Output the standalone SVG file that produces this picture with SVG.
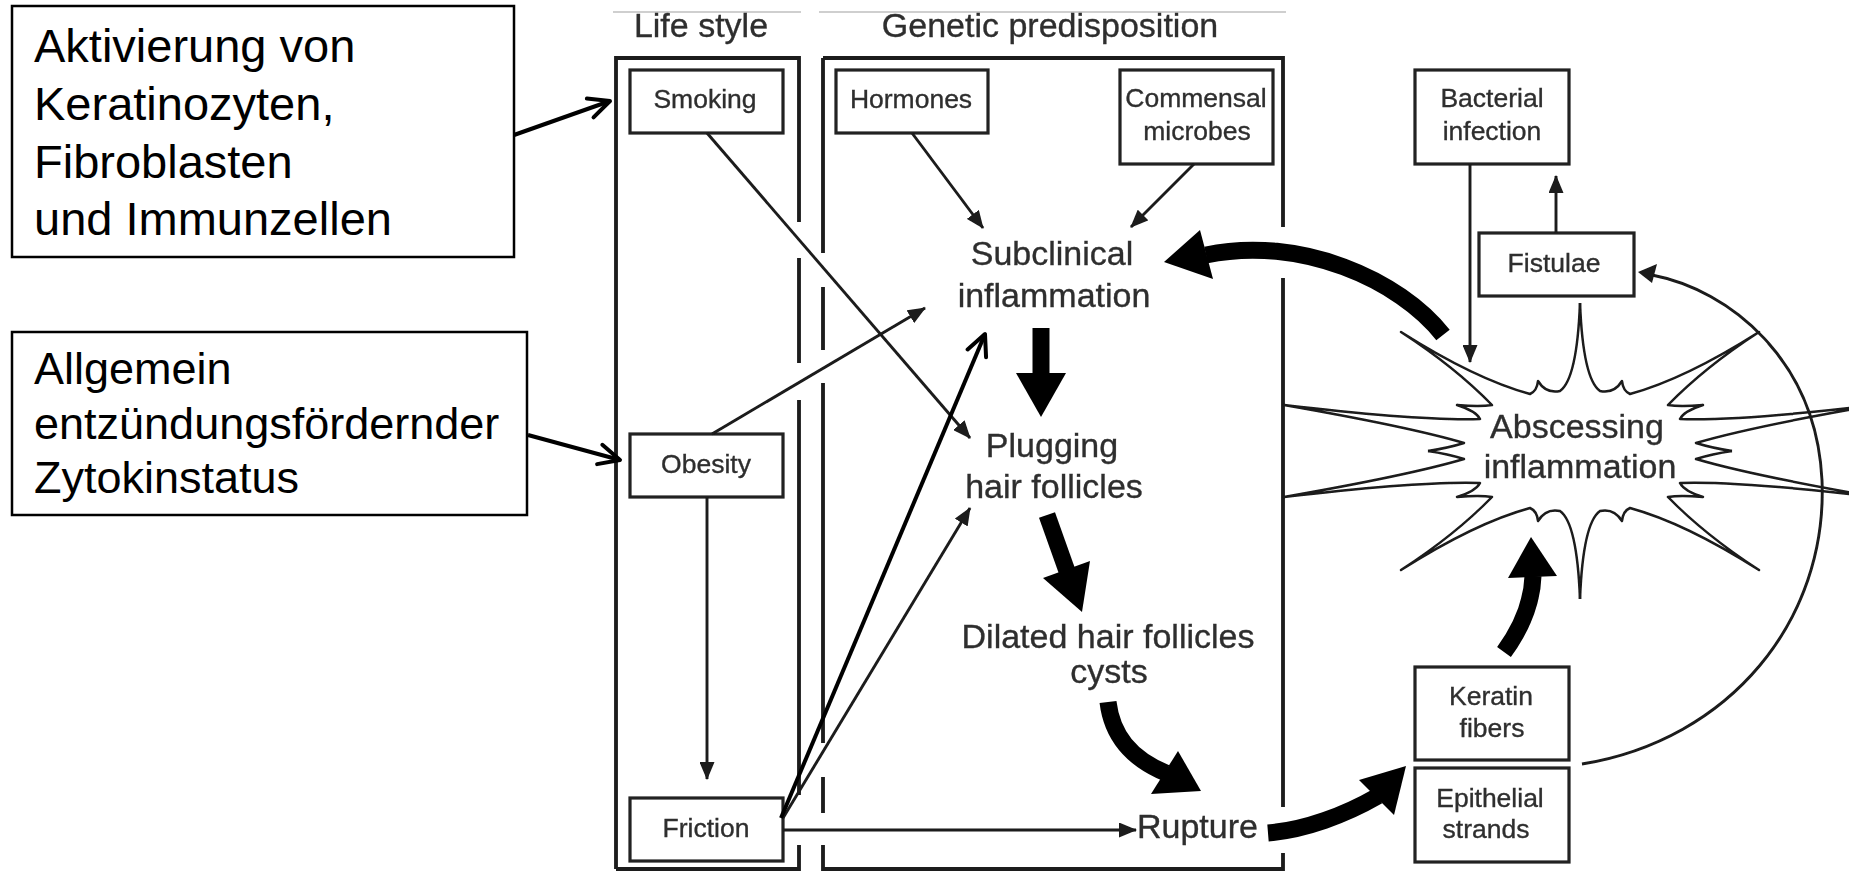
<svg xmlns="http://www.w3.org/2000/svg" xmlns:xlink="http://www.w3.org/1999/xlink" width="1849" height="871" viewBox="0 0 1849 871">
  <style>
    .note { fill: #fff; stroke: #000; stroke-width: 2.5; }
    .notetext { font-family: "Liberation Sans", Arial, sans-serif; fill: #000; }
    .notearrow { fill: none; stroke: #000; stroke-width: 4; marker-end: url(#vee); }
    .frame { fill: none; stroke: #1a1a1a; stroke-width: 3.8; }
    .rule { stroke: #cfcfcf; stroke-width: 2; }
    .nbox { fill: #fff; stroke: #222; stroke-width: 3.2; }
    .lbl { font-family: "Liberation Sans", Arial, sans-serif; font-size: 26.5px; fill: #2e2e2e; text-anchor: middle; stroke: #2e2e2e; stroke-width: 0.35; }
    .big { font-size: 34px; }
    .start { text-anchor: start; }
    .thin { fill: none; stroke: #1a1a1a; stroke-width: 2.9; marker-end: url(#tri); }
    .arc { fill: none; stroke: #1a1a1a; stroke-width: 2.9; }
    .fat { fill: none; stroke: #000; stroke-width: 17; }
    .head { fill: #000; }
    .burst { fill: none; stroke: #1a1a1a; stroke-width: 2.5; stroke-linejoin: round; }
    .soft { filter: url(#soft); }
  </style>
  <defs>
    <marker id="tri" markerUnits="userSpaceOnUse" viewBox="0 0 18 15" refX="17" refY="7.5" markerWidth="18" markerHeight="15" orient="auto">
      <path d="M0,0 L18,7.5 L0,15 z" fill="#1a1a1a"/>
    </marker>
    <marker id="vee" markerUnits="userSpaceOnUse" viewBox="-26 -14 30 28" refX="0" refY="0" markerWidth="30" markerHeight="28" orient="auto">
      <path d="M-21,-10 L0,0 L-21,10" fill="none" stroke="#000" stroke-width="4" stroke-linecap="round" stroke-linejoin="round"/>
    </marker>
    <filter id="soft" x="-5%" y="-5%" width="110%" height="110%">
      <feGaussianBlur stdDeviation="0.5"/>
    </filter>
    <!-- one quarter of the abscess starburst outline, centred on (0,0) -->
    <path id="quad" d="M0,-148 Q3,-72 20,-60 Q34,-57 42,-70 Q43,-60 50,-57 Q105,-72 179,-119 Q125,-84 88,-46 Q100,-44 123,-46 Q104,-40 100,-32 Q160,-30 296,-46 Q170,-24 116,-8 Q132,-3 152,0"/>
  </defs>

  <rect width="1849" height="871" fill="#fff"/>

  <!-- German annotation boxes -->
  <g id="note-activation">
    <rect class="note" x="12" y="6" width="502" height="251"/>
    <text class="notetext" font-size="47" x="34" y="62">Aktivierung von</text>
    <text class="notetext" font-size="47" x="34" y="120">Keratinozyten,</text>
    <text class="notetext" font-size="47" x="34" y="178">Fibroblasten</text>
    <text class="notetext" font-size="47" x="34" y="235">und Immunzellen</text>
  </g>
  <g id="note-cytokine">
    <rect class="note" x="12" y="332" width="515" height="183"/>
    <text class="notetext" font-size="45" x="34" y="384">Allgemein</text>
    <text class="notetext" font-size="45" x="34" y="439">entzündungsfördernder</text>
    <text class="notetext" font-size="45" x="34" y="493">Zytokinstatus</text>
  </g>

  <!-- column headers and frames -->
  <g id="frames" class="soft">
    <line class="rule" x1="613" y1="12" x2="801" y2="12"/>
    <line class="rule" x1="819" y1="12" x2="1286" y2="12"/>
    <text class="lbl big" x="701" y="37">Life style</text>
    <text class="lbl big" x="1050" y="37">Genetic predisposition</text>
    <path class="frame" d="M616,869 V58 H799 V222 M799,258 V363 M799,400 V795 M799,845 V869 H616"/>
    <path class="frame" d="M823,58 H1283 V227 M1283,278 V807 M1283,853 V869 H823 V845 M823,813 V777 M823,743 V383 M823,350 V287 M823,253 V58"/>
  </g>

  <!-- factor nodes -->
  <g id="smoking" class="soft">
    <rect class="nbox" x="630" y="70" width="153" height="63"/>
    <text class="lbl" x="705" y="108">Smoking</text>
  </g>
  <g id="hormones" class="soft">
    <rect class="nbox" x="836" y="70" width="152" height="63"/>
    <text class="lbl" x="911" y="108">Hormones</text>
  </g>
  <g id="commensal" class="soft">
    <rect class="nbox" x="1120" y="70" width="153" height="94"/>
    <text class="lbl" x="1196" y="107">Commensal</text>
    <text class="lbl" x="1197" y="140">microbes</text>
  </g>
  <g id="obesity" class="soft">
    <rect class="nbox" x="630" y="434" width="153" height="63"/>
    <text class="lbl" x="706" y="473">Obesity</text>
  </g>
  <g id="friction" class="soft">
    <rect class="nbox" x="630" y="798" width="153" height="63"/>
    <text class="lbl" x="706" y="837">Friction</text>
  </g>
  <g id="bacterial" class="soft">
    <rect class="nbox" x="1415" y="70" width="154" height="94"/>
    <text class="lbl" x="1492" y="107">Bacterial</text>
    <text class="lbl" x="1492" y="140">infection</text>
  </g>
  <g id="fistulae" class="soft">
    <rect class="nbox" x="1479" y="233" width="155" height="63"/>
    <text class="lbl" x="1554" y="272">Fistulae</text>
  </g>
  <g id="keratin" class="soft">
    <rect class="nbox" x="1415" y="667" width="154" height="93"/>
    <text class="lbl" x="1491" y="705">Keratin</text>
    <text class="lbl" x="1492" y="737">fibers</text>
  </g>
  <g id="epithelial" class="soft">
    <rect class="nbox" x="1415" y="768" width="154" height="94"/>
    <text class="lbl" x="1490" y="807">Epithelial</text>
    <text class="lbl" x="1486" y="838">strands</text>
  </g>

  <!-- disease stages -->
  <g id="subclinical" class="soft">
    <text class="lbl big" x="1052" y="265">Subclinical</text>
    <text class="lbl big" x="1054" y="307">inflammation</text>
  </g>
  <g id="plugging" class="soft">
    <text class="lbl big" x="1052" y="457">Plugging</text>
    <text class="lbl big" x="1054" y="498">hair follicles</text>
  </g>
  <g id="dilated" class="soft">
    <text class="lbl big" x="1108" y="648">Dilated hair follicles</text>
    <text class="lbl big" x="1109" y="683">cysts</text>
  </g>
  <g id="rupture" class="soft">
    <text class="lbl big start" x="1137" y="838">Rupture</text>
  </g>
  <g id="abscess" class="soft">
    <g class="burst" transform="translate(1580,451)">
      <use xlink:href="#quad"/>
      <use xlink:href="#quad" transform="scale(-1,1)"/>
      <use xlink:href="#quad" transform="scale(1,-1)"/>
      <use xlink:href="#quad" transform="scale(-1,-1)"/>
    </g>
    <text class="lbl big" x="1577" y="438">Abscessing</text>
    <text class="lbl big" x="1580" y="478">inflammation</text>
  </g>

  <!-- connectors -->
  <g id="connectors">
    <g class="soft">
      <line class="thin" x1="707" y1="133" x2="970" y2="438"/>
      <line class="thin" x1="912" y1="133" x2="983" y2="228"/>
      <line class="thin" x1="1194" y1="164" x2="1131" y2="227"/>
      <line class="thin" x1="712" y1="434" x2="925" y2="308"/>
      <line class="thin" x1="707" y1="497" x2="707" y2="779"/>
      <line class="thin" x1="783" y1="818" x2="970" y2="508"/>
      <line class="thin" x1="783" y1="830" x2="1136" y2="830"/>
      <line class="thin" x1="1556" y1="233" x2="1556" y2="176"/>
      <line class="thin" x1="1470" y1="164" x2="1470" y2="362"/>
      <path class="arc" d="M1582,764 C1730,740 1828,620 1822,480 C1816,360 1730,290 1652,275"/>
      <path d="M1638,272 L1657,264 L1652,283 z" fill="#1a1a1a"/>

      <!-- bold progression arrows -->
      <line class="fat" x1="1041" y1="328" x2="1041" y2="376"/>
      <path class="head" d="M1016,373 L1066,373 L1041,417 z"/>
      <line class="fat" x1="1047" y1="515" x2="1068" y2="574"/>
      <path class="head" d="M1090,561 L1043,578 L1082,612 z"/>
      <path class="fat" d="M1108,702 C1112,735 1130,758 1166,773"/>
      <path class="head" d="M1151,794 L1178,751 L1201,791 z"/>
      <path class="fat" d="M1268,833 C1305,830 1345,815 1378,796"/>
      <path class="head" d="M1359,780 L1394,815 L1406,766 z"/>
      <path class="fat" d="M1504,652 C1520,630 1532,605 1533,576"/>
      <path class="head" d="M1508,578 L1557,576 L1531,537 z"/>
      <path class="fat" d="M1443,335 C1400,280 1300,235 1206,255"/>
      <path class="head" d="M1200,230 L1213,279 L1164,262 z"/>
    </g>

    <!-- annotation arrows -->
    <line class="notearrow" x1="514" y1="135" x2="610" y2="101"/>
    <line class="notearrow" x1="528" y1="435" x2="620" y2="460"/>
    <line class="notearrow" x1="781" y1="818" x2="985" y2="334"/>
  </g>
</svg>
